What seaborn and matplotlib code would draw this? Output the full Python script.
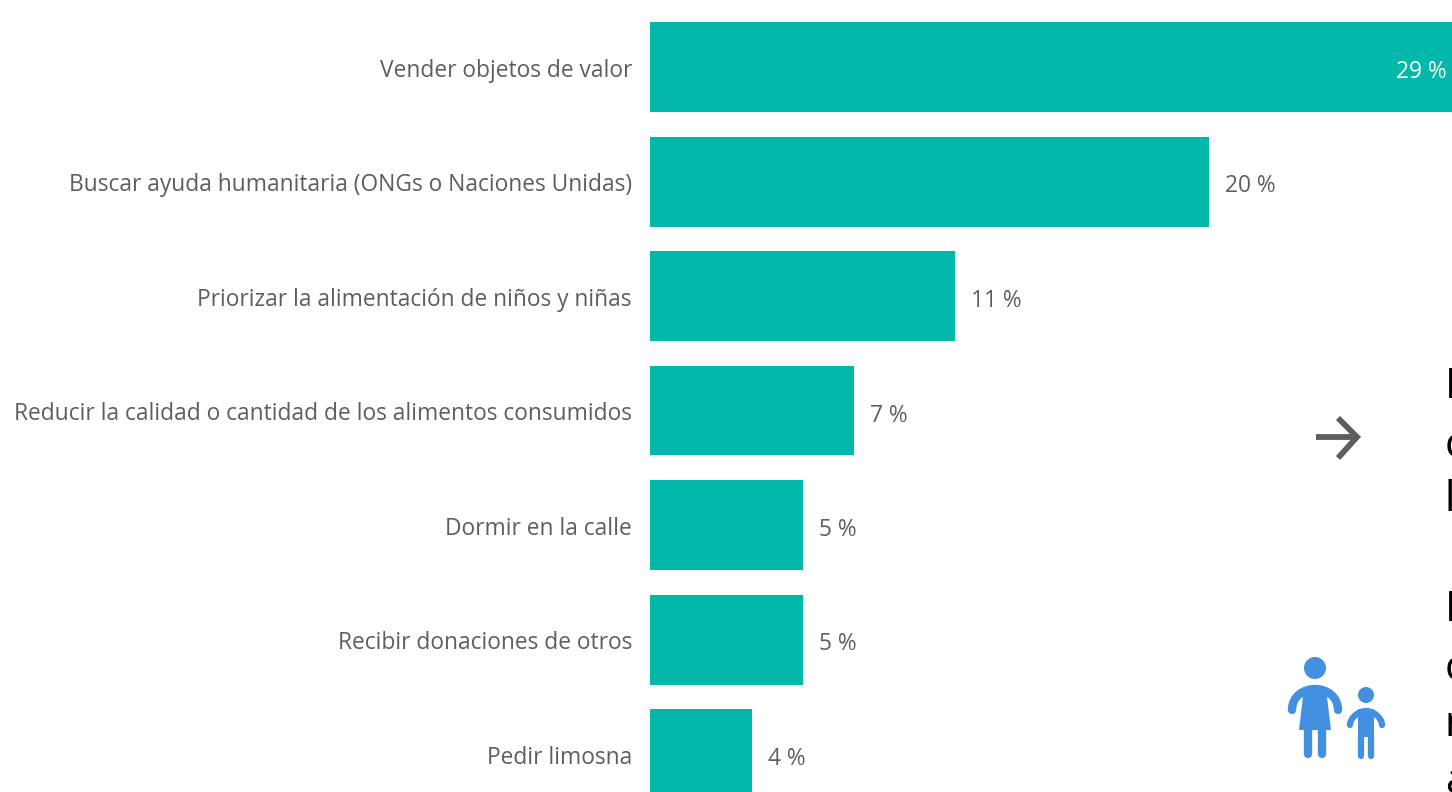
import matplotlib
matplotlib.use('Agg')
import matplotlib.pyplot as plt
from matplotlib.patches import Circle, Polygon, PathPatch
from matplotlib.path import Path
from matplotlib.transforms import ScaledTranslation
import pandas as pd
import seaborn as sns

W, H = 1452, 792

# bar lengths follow the picture, labels are the printed rounded ones
categories = [
    "Vender objetos de valor",
    "Buscar ayuda humanitaria (ONGs o Naciones Unidas)",
    "Priorizar la alimentación de niños y niñas",
    "Reducir la calidad o cantidad de los alimentos consumidos",
    "Dormir en la calle",
    "Recibir donaciones de otros",
    "Pedir limosna",
]
values = [29.1, 20.0, 10.91, 7.3, 5.47, 5.47, 3.65]
value_labels = ["29 %", "20 %", "11 %", "7 %", "5 %", "5 %", "4 %"]

# first letters of the text cut off by the right edge
cut_text_top = ["E", "c", "l"]
cut_text_bottom = ["E", "c", "n", "a"]

TEAL = "#02B8AB"
GREY = "#605E5C"
BLUE = "#4290E0"

sns.set_theme(style="white")
plt.rcParams['font.family'] = ['Open Sans', 'DejaVu Sans']

df = pd.DataFrame({"category": categories, "value": values})

fig = plt.figure(figsize=(W / 100, H / 100), dpi=100)
ax = fig.add_axes([650 / W, 0, (W - 650) / W, 1])
sns.barplot(data=df, x="value", y="category", color=TEAL, saturation=1,
            width=90 / 114.5, linewidth=0, ax=ax)

ax.set_xlim(0, (W - 650) / 27.95)
ax.set_ylim((H - 67) / 114.5, -67 / 114.5)
ax.set_xlabel("")
ax.set_ylabel("")
ax.set_xticks([])
ax.tick_params(axis="y", length=0, pad=13, labelsize=16.4, labelcolor=GREY)
sns.despine(ax=ax, left=True, bottom=True)

# the labels sit a little under the bar centre in the original
shift = ScaledTranslation(0, -0.4 / 72, fig.dpi_scale_trans)
for lab in ax.get_yticklabels():
    lab.set_transform(lab.get_transform() + shift)

for i, (v, lab) in enumerate(zip(values, value_labels)):
    if i == 0:
        ax.annotate(lab, (ax.get_xlim()[1], i), xytext=(-5, -5), textcoords="offset pixels",
                    ha="right", va="center", color="white", fontsize=16.4)
    else:
        ax.annotate(lab, (v, i), xytext=(16, -5), textcoords="offset pixels",
                    ha="left", va="center", color=GREY, fontsize=16.4)


def px(x, y):
    return x / W, 1 - y / H


for lines, ys in ((cut_text_top, [387, 446, 500]), (cut_text_bottom, [610, 669, 725, 782])):
    for s, y in zip(lines, ys):
        fig.text(*px(1445, y), s, ha="left", va="center", color="black", fontsize=30)

# arrow
xs, ys = zip(*[px(*p) for p in [(1316, 437), (1356, 437)]])
fig.add_artist(plt.Line2D(xs, ys, color=GREY, lw=4.2, solid_capstyle="butt"))
xs, ys = zip(*[px(*p) for p in [(1338, 418), (1357, 437), (1338, 458)]])
fig.add_artist(plt.Line2D(xs, ys, color=GREY, lw=4.2, solid_capstyle="butt", solid_joinstyle="miter"))


def fig_circle(x, y, r):
    fig.add_artist(Circle((x, H - y), r, transform=None, color=BLUE, lw=0))


def fig_line(pts, lw):
    xs, ys = zip(*[(x, H - y) for x, y in pts])
    fig.add_artist(plt.Line2D(xs, ys, transform=None, color=BLUE, lw=lw,
                              solid_capstyle="round", solid_joinstyle="round"))


def fig_poly(pts):
    fig.add_artist(Polygon([(x, H - y) for x, y in pts], transform=None, color=BLUE, lw=0))


def fig_arms(left, right, top_y, end_y, lw):
    # one stroke over the shoulders, ends pointing down
    mid = (left + right) / 2
    k = (right - left) * 0.24
    verts = [(left, end_y), (left, top_y + 7), (mid - k, top_y), (mid, top_y),
             (mid + k, top_y), (right, top_y + 7), (right, end_y)]
    codes = [Path.MOVETO] + [Path.CURVE4] * 6
    path = Path([(x, H - y) for x, y in verts], codes)
    fig.add_artist(PathPatch(path, transform=None, fill=False, edgecolor=BLUE, lw=lw,
                             capstyle="round"))


# woman
fig_circle(1315, 668, 11)
fig_arms(1292, 1338, 689, 710, 6)
fig_poly([(1304, 688), (1326, 688), (1331, 730), (1299, 730)])
fig_line([(1308, 728), (1308, 754)], 6)
fig_line([(1322, 728), (1322, 754)], 6)
# child
fig_circle(1366, 695, 8)
fig_arms(1350, 1382, 711, 725, 4.5)
fig_poly([(1358, 709), (1374, 709), (1374, 737), (1358, 737)])
fig_line([(1361, 735), (1361, 756)], 4.5)
fig_line([(1371, 735), (1371, 756)], 4.5)

fig.savefig("out.png", dpi=100, facecolor="white")
